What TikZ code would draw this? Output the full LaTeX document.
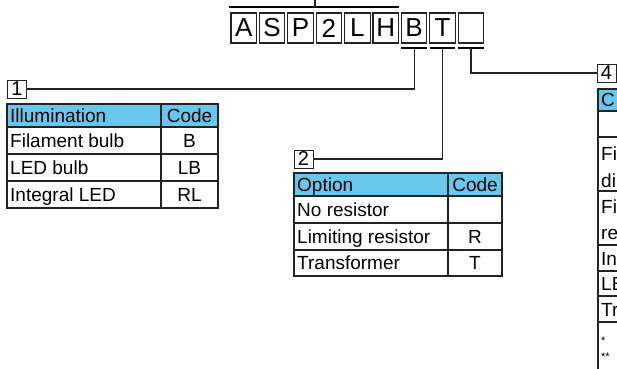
\documentclass[tikz,border=0pt]{standalone}
\usepackage{fontspec}
\setmainfont{Liberation Sans}
\definecolor{hdr}{RGB}{104,200,236}
\definecolor{ln}{RGB}{35,35,35}
\begin{document}
\begin{tikzpicture}[x=1pt,y=-1pt,
  codebox/.style={draw=ln,line width=1.1pt,minimum width=25.5pt,minimum height=30pt,inner sep=0pt,font=\fontsize{26}{26}\selectfont},
  numbox/.style={draw=ln,line width=1pt,minimum width=19pt,minimum height=18pt,inner sep=0pt,font=\fontsize{20}{20}\selectfont},
  bar/.style={line width=2.5pt,draw=black},
  conn/.style={draw=ln,line width=1.1pt},
  grid/.style={draw=ln,line width=1.1pt},
  txt/.style={anchor=base west,inner sep=0pt,font=\fontsize{19}{19}\selectfont},
  ctxt/.style={anchor=base,inner sep=0pt,font=\fontsize{19}{19}\selectfont},
  note/.style={anchor=base west,inner sep=0pt,font=\fontsize{11}{11}\selectfont}]
\useasboundingbox (0,0) rectangle (617,368);
\clip (0,0) rectangle (617,368);
% top code boxes
\foreach \i/\t in {0/A,1/S,2/P,3/2,4/L,5/H,6/B,7/T,8/{}}{
  \node[codebox] (c\i) at (243.75+28.4*\i,28) {\t};
}
\coordinate (top) at (315,0);
\coordinate (topbar) at (315,7);
\draw[bar] (229,7) -- (399,7);
\draw[conn] (top) -- (topbar);
% bars under the selectable positions
\draw[bar] (401.4,48) -- (426.9,48);
\draw[bar] (429.8,48) -- (455.3,48);
\draw[bar] (458.2,48) -- (483.7,48);
\coordinate (b6) at (414.15,48);
\coordinate (b7) at (442.55,48);
\coordinate (b8) at (470.95,48);
% number boxes
\node[numbox] (n1) at (17,89) {1};
\node[numbox] (n2) at (303.5,159) {2};
\node[numbox] (n4) at (606.5,73) {4};
\draw[conn] (b6) |- (n1.east);
\draw[conn] (b7) |- (n2.east);
\draw[conn] (b8) |- (n4.west);
% table 1
\fill[hdr] (7,104) rectangle (218,127);
\draw[grid] (7,104) rectangle (218,208);
\draw[grid] (7,127) -- (218,127) (7,154) -- (218,154) (7,181) -- (218,181) (161,104) -- (161,208);
\node[txt] (t1h) at (10,122.3) {Illumination};
\node[ctxt] (t1c) at (189.5,122.3) {Code};
\node[txt] (t1a) at (10,147.3) {Filament bulb};
\node[ctxt] (t1ac) at (189.5,147.3) {B};
\node[txt] (t1b) at (10,174.3) {LED bulb};
\node[ctxt] (t1bc) at (189.5,174.3) {LB};
\node[txt] (t1d) at (10,201.3) {Integral LED};
\node[ctxt] (t1dc) at (189.5,201.3) {RL};
% table 2
\fill[hdr] (294,173) rectangle (502,196);
\draw[grid] (294,173) rectangle (502,276);
\draw[grid] (294,196) -- (502,196) (294,223) -- (502,223) (294,250) -- (502,250) (448,173) -- (448,276);
\node[txt] (t2h) at (297,191.3) {Option};
\node[ctxt] (t2c) at (475,191.3) {Code};
\node[txt] (t2a) at (297,216.3) {No resistor};
\node[txt] (t2b) at (297,243.3) {Limiting resistor};
\node[ctxt] (t2bc) at (475,243.3) {R};
\node[txt] (t2d) at (297,269.8) {Transformer};
\node[ctxt] (t2dc) at (475,269.8) {T};
% table 4 (cut off at right)
\fill[hdr] (598,89) rectangle (700,111);
\draw[grid] (598,89) rectangle (700,400);
\draw[grid] (598,111) -- (700,111) (598,137) -- (700,137) (598,191) -- (700,191) (598,245) -- (700,245) (598,271) -- (700,271) (598,296) -- (700,296) (598,322) -- (700,322);
\node[txt] (t4h) at (601,106.8) {C};
\node[txt] (t4a) at (601,160) {Fi};
\node[txt] (t4a2) at (601,187) {di};
\node[txt] (t4b) at (601,213) {Fi};
\node[txt] (t4b2) at (601,239) {re};
\node[txt] (t4c) at (601,265) {In};
\node[txt] (t4d) at (601,290) {LE};
\node[txt] (t4e) at (601,316) {Tr};
\node[note] (f1) at (601,344) {*};
\node[note] (f2) at (601,360) {**};
\end{tikzpicture}
\end{document}
